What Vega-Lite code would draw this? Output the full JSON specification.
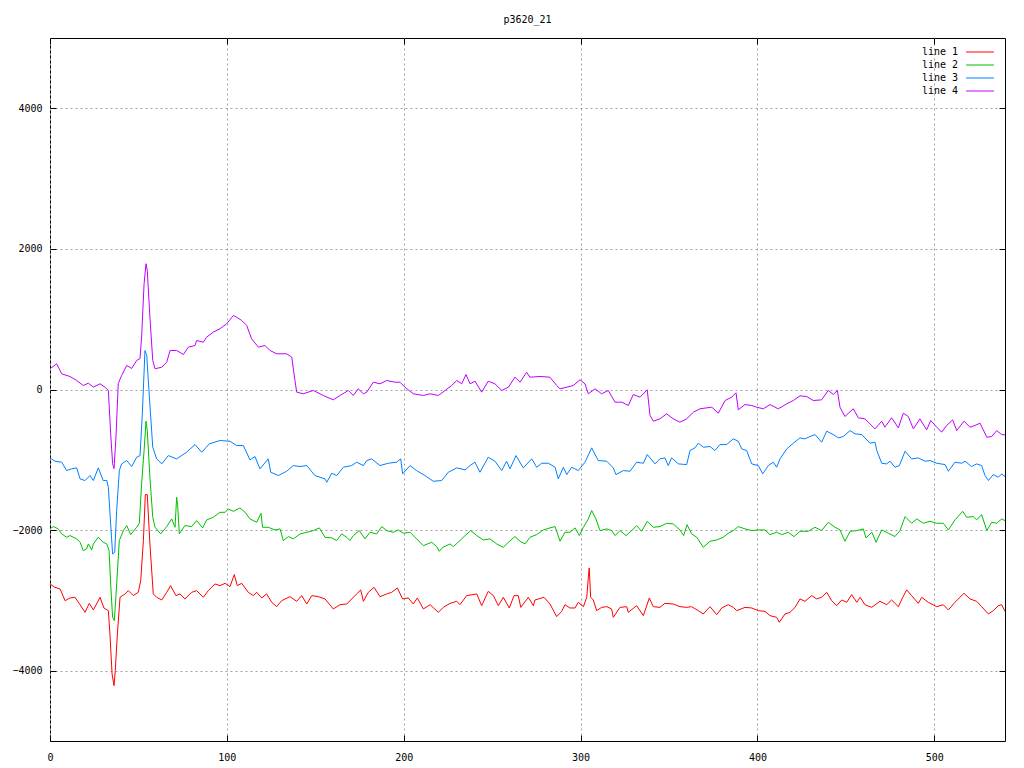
{
"$schema": "https://vega.github.io/schema/vega-lite/v6.json",
"width": 955, "height": 703,
"autosize": {"type": "none"},
"padding": {"left": 50, "top": 38, "right": 19, "bottom": 27},
"background": "white",
"title": {"text": "p3620_21", "font": "DejaVu Sans Mono", "fontSize": 10, "fontWeight": "normal", "color": "black", "offset": 13},
"config": {
  "view": {"stroke": "black", "strokeWidth": 1},
  "axis": {"domain": false, "grid": true, "gridColor": "#a0a0a0", "gridDash": [2, 3], "gridWidth": 1, "tickColor": "black", "tickSize": -6, "labelFont": "DejaVu Sans Mono", "labelFontSize": 10, "labelColor": "black", "labelFlush": false, "labelOverlap": false, "format": "d", "title": null},
  "legend": {"orient": "top-right", "offset": 9, "padding": 0, "title": null, "labelFont": "DejaVu Sans Mono", "labelFontSize": 10, "labelColor": "black", "symbolType": "M-3.1,0H3.1", "symbolSize": 81, "symbolStrokeWidth": 1, "labelAlign": "right", "labelOffset": -27, "rowPadding": 3},
  "line": {"strokeWidth": 1}
},
"resolve": {"axis": {"x": "independent", "y": "independent"}},
"layer": [
{
"data": {"values": [
{"x":0,"y":-2766},{"x":2.8,"y":-2814},{"x":5.7,"y":-2837},{"x":8.5,"y":-3004},{"x":11.3,"y":-2965},{"x":14.1,"y":-2956},{"x":17,"y":-3061},{"x":19.8,"y":-3170},{"x":22.2,"y":-3042},{"x":24.5,"y":-3136},{"x":28.3,"y":-2956},{"x":30.5,"y":-3108},{"x":33,"y":-3146},{"x":33.9,"y":-3478},{"x":35.1,"y":-4047},{"x":36.2,"y":-4213},{"x":36.9,"y":-4000},{"x":38.1,"y":-3478},{"x":39.6,"y":-2956},{"x":42.4,"y":-2908},{"x":44.3,"y":-2861},{"x":47.1,"y":-2932},{"x":49.9,"y":-2885},{"x":51.3,"y":-2719},{"x":52.8,"y":-2149},{"x":53.9,"y":-1495},{"x":55,"y":-1495},{"x":56.5,"y":-2197},{"x":58.4,"y":-2908},{"x":60.3,"y":-2956},{"x":63.2,"y":-2994},{"x":66,"y":-2885},{"x":68.2,"y":-2790},{"x":71.2,"y":-2932},{"x":73.5,"y":-2908},{"x":76.3,"y":-2979},{"x":80.1,"y":-2885},{"x":82.9,"y":-2861},{"x":86.7,"y":-2956},{"x":89.5,"y":-2861},{"x":93.3,"y":-2766},{"x":96.1,"y":-2790},{"x":99,"y":-2757},{"x":101.8,"y":-2804},{"x":104.2,"y":-2633},{"x":105.9,"y":-2790},{"x":108.4,"y":-2757},{"x":112.1,"y":-2885},{"x":115,"y":-2932},{"x":116.9,"y":-2885},{"x":119.7,"y":-2965},{"x":122.5,"y":-2908},{"x":125.4,"y":-3027},{"x":128.2,"y":-3089},{"x":131,"y":-3004},{"x":135.7,"y":-2947},{"x":139.5,"y":-3013},{"x":142.3,"y":-2932},{"x":145.2,"y":-3051},{"x":148,"y":-2932},{"x":151.7,"y":-2947},{"x":155.5,"y":-2979},{"x":160.2,"y":-3122},{"x":164,"y":-3061},{"x":167.8,"y":-3051},{"x":170.6,"y":-2979},{"x":173.4,"y":-2908},{"x":175.7,"y":-2851},{"x":177.2,"y":-3013},{"x":180,"y":-2885},{"x":183.2,"y":-2814},{"x":186.6,"y":-2947},{"x":190.4,"y":-2908},{"x":193.2,"y":-2885},{"x":196.4,"y":-2823},{"x":199.4,"y":-2979},{"x":202.6,"y":-2965},{"x":205.4,"y":-3051},{"x":207.7,"y":-2965},{"x":211.1,"y":-3122},{"x":214.9,"y":-3061},{"x":219.6,"y":-3170},{"x":222.4,"y":-3099},{"x":226.2,"y":-3042},{"x":230,"y":-3013},{"x":231.8,"y":-3061},{"x":235.6,"y":-2932},{"x":241.3,"y":-2908},{"x":244.1,"y":-3075},{"x":247.8,"y":-2871},{"x":250.7,"y":-2932},{"x":253.5,"y":-3075},{"x":256.3,"y":-2956},{"x":259.7,"y":-3108},{"x":262.4,"y":-2932},{"x":264.8,"y":-2932},{"x":266.2,"y":-3099},{"x":270.5,"y":-2956},{"x":273.3,"y":-3075},{"x":274.2,"y":-2994},{"x":279.3,"y":-2956},{"x":282.7,"y":-3051},{"x":286.5,"y":-3231},{"x":289.3,"y":-3156},{"x":291.2,"y":-3061},{"x":294,"y":-3108},{"x":296.9,"y":-3108},{"x":298.7,"y":-3027},{"x":301.6,"y":-3089},{"x":303.5,"y":-2956},{"x":304.4,"y":-2672},{"x":304.9,"y":-2538},{"x":305.7,"y":-2956},{"x":307.2,"y":-2994},{"x":309.1,"y":-3146},{"x":311.9,"y":-3099},{"x":314.8,"y":-3089},{"x":317.6,"y":-3122},{"x":318.5,"y":-3241},{"x":322.3,"y":-3099},{"x":326.1,"y":-3089},{"x":327,"y":-3170},{"x":331.7,"y":-3075},{"x":335.5,"y":-3217},{"x":338.9,"y":-2965},{"x":341.1,"y":-3089},{"x":344.9,"y":-3099},{"x":347.7,"y":-3042},{"x":352.4,"y":-3051},{"x":356.2,"y":-3089},{"x":360,"y":-3099},{"x":362.8,"y":-3089},{"x":366.6,"y":-3146},{"x":369.4,"y":-3193},{"x":373.2,"y":-3089},{"x":377,"y":-3203},{"x":379.8,"y":-3108},{"x":383.5,"y":-3061},{"x":386.4,"y":-3099},{"x":388.3,"y":-3146},{"x":393,"y":-3099},{"x":396.8,"y":-3108},{"x":400.5,"y":-3146},{"x":404.3,"y":-3156},{"x":407.1,"y":-3217},{"x":410.9,"y":-3241},{"x":412.4,"y":-3312},{"x":415.6,"y":-3193},{"x":418.4,"y":-3170},{"x":421.3,"y":-3099},{"x":424.1,"y":-2979},{"x":426.9,"y":-3013},{"x":430.7,"y":-2932},{"x":433.5,"y":-2979},{"x":436.3,"y":-2956},{"x":439.2,"y":-2885},{"x":442,"y":-3004},{"x":444.8,"y":-3075},{"x":447.7,"y":-2994},{"x":450.5,"y":-3027},{"x":453.3,"y":-2918},{"x":456.2,"y":-3027},{"x":458.1,"y":-2956},{"x":460.8,"y":-3061},{"x":464.6,"y":-3099},{"x":469.3,"y":-3013},{"x":473.1,"y":-3061},{"x":475.9,"y":-2994},{"x":479.7,"y":-3089},{"x":482.2,"y":-2956},{"x":484.4,"y":-2851},{"x":487.2,"y":-2932},{"x":491,"y":-3042},{"x":492.9,"y":-2956},{"x":496.6,"y":-3027},{"x":501.4,"y":-3089},{"x":505.1,"y":-3061},{"x":508,"y":-3136},{"x":511.7,"y":-3027},{"x":516.8,"y":-2899},{"x":520.2,"y":-2979},{"x":524,"y":-3013},{"x":526.8,"y":-3089},{"x":530.6,"y":-3193},{"x":533.4,"y":-3146},{"x":536.2,"y":-3075},{"x":538.1,"y":-3061},{"x":540,"y":-3156}
]},
"mark": {"type": "line", "clip": true},
"encoding": {
  "x": {"field": "x", "type": "quantitative", "scale": {"domain": [0, 540], "nice": false, "zero": false}, "axis": {"orient": "bottom", "values": [0, 100, 200, 300, 400, 500], "labelPadding": 17}},
  "y": {"field": "y", "type": "quantitative", "scale": {"domain": [-5000, 5000], "nice": false}, "axis": {"orient": "left", "values": [-4000, -2000, 0, 2000, 4000], "labelPadding": 14}},
  "color": {"datum": "line 1", "scale": {"domain": ["line 1", "line 2", "line 3", "line 4"], "range": ["#ff0000", "#00c000", "#0080ff", "#c000ff"]}}
}
},
{
"data": {"values": [
{"x":0,"y":-1983},{"x":1.9,"y":-1950},{"x":4.7,"y":-1983},{"x":6.6,"y":-2054},{"x":9.4,"y":-2102},{"x":11.3,"y":-2078},{"x":15.1,"y":-2125},{"x":17,"y":-2173},{"x":18.8,"y":-2292},{"x":20.7,"y":-2268},{"x":21.7,"y":-2197},{"x":23.6,"y":-2282},{"x":24.5,"y":-2197},{"x":27.3,"y":-2102},{"x":30.1,"y":-2173},{"x":32.1,"y":-2197},{"x":33.4,"y":-2292},{"x":34.3,"y":-2766},{"x":35.4,"y":-3241},{"x":36.4,"y":-3288},{"x":37.7,"y":-2766},{"x":39.2,"y":-2149},{"x":41.5,"y":-2007},{"x":43.4,"y":-1936},{"x":45.6,"y":-2064},{"x":49,"y":-1960},{"x":50.5,"y":-1903},{"x":51.8,"y":-1342},{"x":53.2,"y":-868},{"x":54.3,"y":-451},{"x":55,"y":-584},{"x":56.5,"y":-1248},{"x":58.1,"y":-1818},{"x":59.4,"y":-1960},{"x":62.6,"y":-2054},{"x":66,"y":-1950},{"x":68.8,"y":-1841},{"x":70.7,"y":-1960},{"x":71.6,"y":-1533},{"x":72.2,"y":-1651},{"x":73.1,"y":-2054},{"x":76.3,"y":-1936},{"x":80.1,"y":-1950},{"x":82.9,"y":-1865},{"x":86.3,"y":-1969},{"x":88.6,"y":-1855},{"x":92.3,"y":-1818},{"x":96.1,"y":-1747},{"x":99,"y":-1747},{"x":100.8,"y":-1699},{"x":103.7,"y":-1733},{"x":107.4,"y":-1685},{"x":110.3,"y":-1747},{"x":113.1,"y":-1841},{"x":116.9,"y":-1889},{"x":119.3,"y":-1761},{"x":120.2,"y":-1960},{"x":123.4,"y":-1960},{"x":127.2,"y":-1998},{"x":130.1,"y":-1983},{"x":131.9,"y":-2149},{"x":134.8,"y":-2092},{"x":137.6,"y":-2125},{"x":141.4,"y":-2054},{"x":145.2,"y":-2031},{"x":148.9,"y":-2007},{"x":152.3,"y":-1969},{"x":155.5,"y":-2102},{"x":159.3,"y":-2111},{"x":162.1,"y":-2149},{"x":164.9,"y":-2054},{"x":167.8,"y":-2102},{"x":169.6,"y":-2149},{"x":171.5,"y":-2078},{"x":174.9,"y":-2007},{"x":178.1,"y":-2125},{"x":181,"y":-2031},{"x":184.7,"y":-2054},{"x":187.6,"y":-1950},{"x":190.4,"y":-2007},{"x":194.1,"y":-2031},{"x":196.9,"y":-1998},{"x":199.8,"y":-2045},{"x":203.6,"y":-2031},{"x":207.3,"y":-2125},{"x":211.1,"y":-2221},{"x":215.8,"y":-2173},{"x":218.7,"y":-2235},{"x":220.1,"y":-2302},{"x":222.1,"y":-2245},{"x":226.2,"y":-2197},{"x":228.1,"y":-2235},{"x":231.8,"y":-2149},{"x":234.7,"y":-2078},{"x":237.9,"y":-2007},{"x":241.3,"y":-2078},{"x":245,"y":-2140},{"x":248.8,"y":-2125},{"x":252.6,"y":-2197},{"x":256.3,"y":-2245},{"x":259.2,"y":-2173},{"x":262.9,"y":-2092},{"x":265.8,"y":-2159},{"x":268.6,"y":-2197},{"x":271.4,"y":-2102},{"x":275.2,"y":-2064},{"x":278.9,"y":-1998},{"x":282.7,"y":-1969},{"x":285.6,"y":-1950},{"x":288.4,"y":-2159},{"x":291.2,"y":-2031},{"x":294,"y":-2031},{"x":296.9,"y":-1969},{"x":299.3,"y":-2078},{"x":301.6,"y":-1960},{"x":304.4,"y":-1841},{"x":306.3,"y":-1722},{"x":308.7,"y":-1841},{"x":311,"y":-2007},{"x":314.8,"y":-1983},{"x":317.6,"y":-2007},{"x":319.5,"y":-2078},{"x":322.3,"y":-2007},{"x":325.7,"y":-2078},{"x":328.9,"y":-2007},{"x":331.7,"y":-1936},{"x":334.5,"y":-2017},{"x":337.7,"y":-1875},{"x":341.1,"y":-1960},{"x":344.9,"y":-1950},{"x":348.7,"y":-1903},{"x":352.4,"y":-1912},{"x":356.2,"y":-1998},{"x":358.3,"y":-2078},{"x":360.2,"y":-1922},{"x":362.8,"y":-2054},{"x":365.7,"y":-2102},{"x":369.4,"y":-2245},{"x":373.2,"y":-2159},{"x":377,"y":-2140},{"x":380.7,"y":-2102},{"x":383.5,"y":-2045},{"x":386.4,"y":-2007},{"x":389.2,"y":-1950},{"x":393,"y":-1983},{"x":396.8,"y":-2007},{"x":400.5,"y":-1998},{"x":404.3,"y":-1998},{"x":407.1,"y":-2064},{"x":410.9,"y":-2031},{"x":413.7,"y":-2064},{"x":417.5,"y":-2031},{"x":420.7,"y":-2092},{"x":424.1,"y":-2017},{"x":428.8,"y":-2017},{"x":432.6,"y":-1960},{"x":436.3,"y":-2007},{"x":440.1,"y":-1889},{"x":443.9,"y":-1960},{"x":446.7,"y":-1998},{"x":449.5,"y":-2159},{"x":452.4,"y":-2017},{"x":456.2,"y":-2007},{"x":459.9,"y":-1983},{"x":461.4,"y":-2111},{"x":464.7,"y":-2031},{"x":467.1,"y":-2173},{"x":470.3,"y":-1998},{"x":474.1,"y":-2045},{"x":477.8,"y":-2092},{"x":480.6,"y":-2007},{"x":483.5,"y":-1808},{"x":487.2,"y":-1903},{"x":490.1,"y":-1841},{"x":493.8,"y":-1903},{"x":497.6,"y":-1875},{"x":501.4,"y":-1903},{"x":505.1,"y":-1903},{"x":508,"y":-1998},{"x":511.7,"y":-1855},{"x":516.1,"y":-1733},{"x":518.3,"y":-1818},{"x":522.1,"y":-1808},{"x":524,"y":-1855},{"x":526.8,"y":-1779},{"x":529.7,"y":-2007},{"x":532.5,"y":-1889},{"x":535.3,"y":-1903},{"x":538.1,"y":-1841},{"x":540,"y":-1865}
]},
"mark": {"type": "line", "clip": true},
"encoding": {
  "x": {"field": "x", "type": "quantitative", "scale": {"domain": [0, 540], "nice": false, "zero": false}, "axis": {"orient": "top", "values": [0, 100, 200, 300, 400, 500], "labels": false, "grid": false}},
  "y": {"field": "y", "type": "quantitative", "scale": {"domain": [-5000, 5000], "nice": false}, "axis": {"orient": "right", "values": [-4000, -2000, 0, 2000, 4000], "labels": false, "grid": false}},
  "color": {"datum": "line 2"}
}
},
{
"data": {"values": [
{"x":0,"y":-973},{"x":2.8,"y":-1020},{"x":6.6,"y":-1034},{"x":9.4,"y":-1153},{"x":12.2,"y":-1129},{"x":15.1,"y":-1115},{"x":17,"y":-1271},{"x":19.8,"y":-1295},{"x":22.6,"y":-1224},{"x":24.5,"y":-1295},{"x":27.3,"y":-1115},{"x":30.1,"y":-1295},{"x":32.1,"y":-1295},{"x":33,"y":-1390},{"x":34.3,"y":-1912},{"x":35.4,"y":-2339},{"x":36.6,"y":-2316},{"x":37.7,"y":-1722},{"x":39.2,"y":-1153},{"x":40.5,"y":-1058},{"x":43.4,"y":-1011},{"x":46.2,"y":-1096},{"x":49,"y":-963},{"x":50.9,"y":-940},{"x":52.2,"y":-346},{"x":53.7,"y":555},{"x":54.7,"y":484},{"x":56.2,"y":-109},{"x":58.1,"y":-821},{"x":60.3,"y":-987},{"x":63.2,"y":-1058},{"x":66.9,"y":-940},{"x":71.6,"y":-987},{"x":77.3,"y":-892},{"x":82,"y":-783},{"x":85.8,"y":-892},{"x":90.1,"y":-773},{"x":96.1,"y":-726},{"x":101.8,"y":-736},{"x":105.5,"y":-797},{"x":109.3,"y":-797},{"x":113.1,"y":-1001},{"x":115.9,"y":-954},{"x":118.7,"y":-1129},{"x":123.4,"y":-987},{"x":124.8,"y":-1177},{"x":129.1,"y":-1224},{"x":133.8,"y":-1163},{"x":137.6,"y":-1082},{"x":141.4,"y":-1096},{"x":145.2,"y":-1082},{"x":149.8,"y":-1224},{"x":155.5,"y":-1271},{"x":156.5,"y":-1319},{"x":159.3,"y":-1191},{"x":162.1,"y":-1224},{"x":165.9,"y":-1106},{"x":170.6,"y":-1082},{"x":173.4,"y":-1034},{"x":177.2,"y":-1082},{"x":179.1,"y":-1011},{"x":181.9,"y":-987},{"x":186.6,"y":-1082},{"x":191.3,"y":-1049},{"x":196,"y":-1034},{"x":198.3,"y":-987},{"x":199.4,"y":-1200},{"x":203.6,"y":-1082},{"x":207.3,"y":-1153},{"x":212,"y":-1224},{"x":216.7,"y":-1305},{"x":221.5,"y":-1295},{"x":225.2,"y":-1177},{"x":230,"y":-1115},{"x":234.7,"y":-1143},{"x":237.5,"y":-1082},{"x":240.3,"y":-1034},{"x":243.1,"y":-1177},{"x":247.8,"y":-963},{"x":251.6,"y":-1020},{"x":255.4,"y":-1153},{"x":258.2,"y":-1020},{"x":260.1,"y":-1129},{"x":263.5,"y":-940},{"x":267.6,"y":-1115},{"x":272.4,"y":-987},{"x":275.2,"y":-1106},{"x":278,"y":-1049},{"x":281.8,"y":-1049},{"x":285.6,"y":-1106},{"x":287.4,"y":-1271},{"x":290.3,"y":-1106},{"x":292.2,"y":-1210},{"x":295,"y":-1106},{"x":298.7,"y":-1153},{"x":302.5,"y":-1034},{"x":306.3,"y":-830},{"x":310,"y":-1011},{"x":314.8,"y":-1020},{"x":318.5,"y":-1115},{"x":320,"y":-1210},{"x":324.2,"y":-1153},{"x":328,"y":-1163},{"x":331.7,"y":-1034},{"x":335.5,"y":-1049},{"x":337.7,"y":-925},{"x":342.1,"y":-1058},{"x":344.9,"y":-987},{"x":347.7,"y":-973},{"x":349.6,"y":-1082},{"x":351.5,"y":-973},{"x":355.3,"y":-1058},{"x":360,"y":-1068},{"x":361.9,"y":-868},{"x":364.7,"y":-830},{"x":366.6,"y":-764},{"x":369.4,"y":-821},{"x":373.2,"y":-811},{"x":376,"y":-868},{"x":378.8,"y":-783},{"x":382.6,"y":-783},{"x":386.4,"y":-702},{"x":389.2,"y":-736},{"x":391.1,"y":-844},{"x":393.9,"y":-868},{"x":396.8,"y":-1058},{"x":400.5,"y":-1082},{"x":403,"y":-1200},{"x":406.2,"y":-1082},{"x":409,"y":-1034},{"x":410.9,"y":-1106},{"x":412.8,"y":-987},{"x":416.6,"y":-844},{"x":420.3,"y":-764},{"x":424.1,"y":-688},{"x":426.9,"y":-702},{"x":429.7,"y":-669},{"x":432.6,"y":-641},{"x":436.3,"y":-750},{"x":439.2,"y":-593},{"x":442.9,"y":-641},{"x":445.8,"y":-688},{"x":448.6,"y":-669},{"x":452.4,"y":-584},{"x":455.2,"y":-631},{"x":459,"y":-641},{"x":463.7,"y":-764},{"x":466.5,"y":-750},{"x":467.5,"y":-868},{"x":470.3,"y":-1049},{"x":473.1,"y":-1058},{"x":475,"y":-1020},{"x":477.8,"y":-1106},{"x":480.3,"y":-1082},{"x":483.5,"y":-878},{"x":487.2,"y":-987},{"x":491,"y":-973},{"x":494.8,"y":-1020},{"x":497.6,"y":-1011},{"x":501.4,"y":-1049},{"x":506.1,"y":-1068},{"x":508,"y":-1163},{"x":511.7,"y":-1034},{"x":515.5,"y":-1049},{"x":517.4,"y":-1020},{"x":521.1,"y":-1096},{"x":524,"y":-1058},{"x":526.8,"y":-1082},{"x":528.7,"y":-1224},{"x":530.6,"y":-1295},{"x":533.4,"y":-1210},{"x":536.2,"y":-1248},{"x":538.1,"y":-1200},{"x":540,"y":-1238}
]},
"mark": {"type": "line", "clip": true},
"encoding": {
  "x": {"field": "x", "type": "quantitative", "scale": {"domain": [0, 540], "nice": false, "zero": false}, "axis": null},
  "y": {"field": "y", "type": "quantitative", "scale": {"domain": [-5000, 5000], "nice": false}, "axis": null},
  "color": {"datum": "line 3"}
}
},
{
"data": {"values": [
{"x":0,"y":295},{"x":3.8,"y":366},{"x":6.6,"y":223},{"x":11.3,"y":185},{"x":15.1,"y":128},{"x":18.8,"y":57},{"x":21.7,"y":90},{"x":24.5,"y":33},{"x":28.3,"y":81},{"x":31.1,"y":33},{"x":33,"y":-14},{"x":34.3,"y":-627},{"x":35.4,"y":-1053},{"x":36.2,"y":-1125},{"x":37.3,"y":-679},{"x":38.6,"y":85},{"x":40.5,"y":199},{"x":43.4,"y":342},{"x":46.2,"y":299},{"x":49,"y":413},{"x":50.9,"y":441},{"x":51.8,"y":745},{"x":53.2,"y":1505},{"x":54.3,"y":1789},{"x":55,"y":1694},{"x":56.5,"y":1029},{"x":58.1,"y":413},{"x":59.4,"y":295},{"x":63.2,"y":317},{"x":66,"y":389},{"x":67.9,"y":555},{"x":71.6,"y":555},{"x":75.4,"y":498},{"x":78.2,"y":602},{"x":82,"y":626},{"x":82.9,"y":697},{"x":86.7,"y":673},{"x":88.6,"y":745},{"x":92.3,"y":816},{"x":96.1,"y":864},{"x":99.9,"y":935},{"x":103.7,"y":1053},{"x":105.5,"y":1029},{"x":108.4,"y":982},{"x":111.2,"y":911},{"x":114,"y":721},{"x":117.8,"y":602},{"x":121.6,"y":626},{"x":124.4,"y":555},{"x":128.2,"y":508},{"x":133.8,"y":508},{"x":136.7,"y":460},{"x":138.5,"y":128},{"x":139.5,"y":-38},{"x":143.2,"y":-61},{"x":148.9,"y":-14},{"x":154.5,"y":-85},{"x":160.2,"y":-147},{"x":164,"y":-85},{"x":168.7,"y":-14},{"x":171.5,"y":-85},{"x":174.3,"y":10},{"x":177.2,"y":-61},{"x":179.1,"y":-38},{"x":182.8,"y":104},{"x":186.6,"y":81},{"x":190.4,"y":128},{"x":195.1,"y":104},{"x":197.9,"y":104},{"x":200.7,"y":33},{"x":205.4,"y":-61},{"x":211.1,"y":-85},{"x":214.9,"y":-61},{"x":219.6,"y":-85},{"x":223.4,"y":-14},{"x":227.1,"y":57},{"x":230,"y":128},{"x":232.8,"y":81},{"x":235.2,"y":213},{"x":237.5,"y":81},{"x":240.3,"y":118},{"x":244.1,"y":-38},{"x":247.8,"y":118},{"x":251.6,"y":81},{"x":255.4,"y":-14},{"x":259.2,"y":33},{"x":262.9,"y":175},{"x":265.8,"y":104},{"x":269.5,"y":246},{"x":271.4,"y":175},{"x":277.1,"y":185},{"x":282.7,"y":175},{"x":286.5,"y":57},{"x":288.4,"y":10},{"x":292.2,"y":33},{"x":295.9,"y":57},{"x":299.7,"y":138},{"x":302.5,"y":81},{"x":304.4,"y":-61},{"x":308.2,"y":10},{"x":311.9,"y":-61},{"x":315.7,"y":-14},{"x":319.5,"y":-180},{"x":323.3,"y":-180},{"x":327,"y":-228},{"x":329.8,"y":-71},{"x":333.6,"y":-109},{"x":337.7,"y":-4},{"x":339.3,"y":-370},{"x":341.2,"y":-451},{"x":344.9,"y":-417},{"x":348.7,"y":-346},{"x":352.4,"y":-417},{"x":356.2,"y":-465},{"x":360,"y":-417},{"x":363.8,"y":-323},{"x":367.5,"y":-275},{"x":371.3,"y":-261},{"x":374.2,"y":-252},{"x":377.9,"y":-337},{"x":381.7,"y":-157},{"x":385.5,"y":-109},{"x":387.9,"y":-47},{"x":389.2,"y":-289},{"x":393,"y":-214},{"x":396.8,"y":-228},{"x":399.6,"y":-252},{"x":403.4,"y":-275},{"x":407.1,"y":-214},{"x":411.8,"y":-275},{"x":416.6,"y":-204},{"x":420.3,"y":-157},{"x":424.1,"y":-90},{"x":427.9,"y":-100},{"x":431.6,"y":-157},{"x":436.3,"y":-147},{"x":440.1,"y":-14},{"x":442.9,"y":-71},{"x":445.2,"y":-14},{"x":446.7,"y":-252},{"x":449.5,"y":-384},{"x":454.2,"y":-275},{"x":457.1,"y":-403},{"x":460.8,"y":-417},{"x":466.5,"y":-560},{"x":470.3,"y":-451},{"x":472.1,"y":-536},{"x":475.9,"y":-403},{"x":479.7,"y":-546},{"x":482.5,"y":-337},{"x":485.3,"y":-384},{"x":488.2,"y":-560},{"x":491.9,"y":-417},{"x":495.7,"y":-574},{"x":498,"y":-441},{"x":501.4,"y":-536},{"x":504.2,"y":-607},{"x":507,"y":-512},{"x":510.4,"y":-432},{"x":512.7,"y":-584},{"x":516.8,"y":-451},{"x":520.2,"y":-536},{"x":523,"y":-512},{"x":525.9,"y":-479},{"x":529.7,"y":-679},{"x":532.5,"y":-669},{"x":535.3,"y":-584},{"x":538.1,"y":-641},{"x":540,"y":-646}
]},
"mark": {"type": "line", "clip": true},
"encoding": {
  "x": {"field": "x", "type": "quantitative", "scale": {"domain": [0, 540], "nice": false, "zero": false}, "axis": null},
  "y": {"field": "y", "type": "quantitative", "scale": {"domain": [-5000, 5000], "nice": false}, "axis": null},
  "color": {"datum": "line 4"}
}
}
]
}
